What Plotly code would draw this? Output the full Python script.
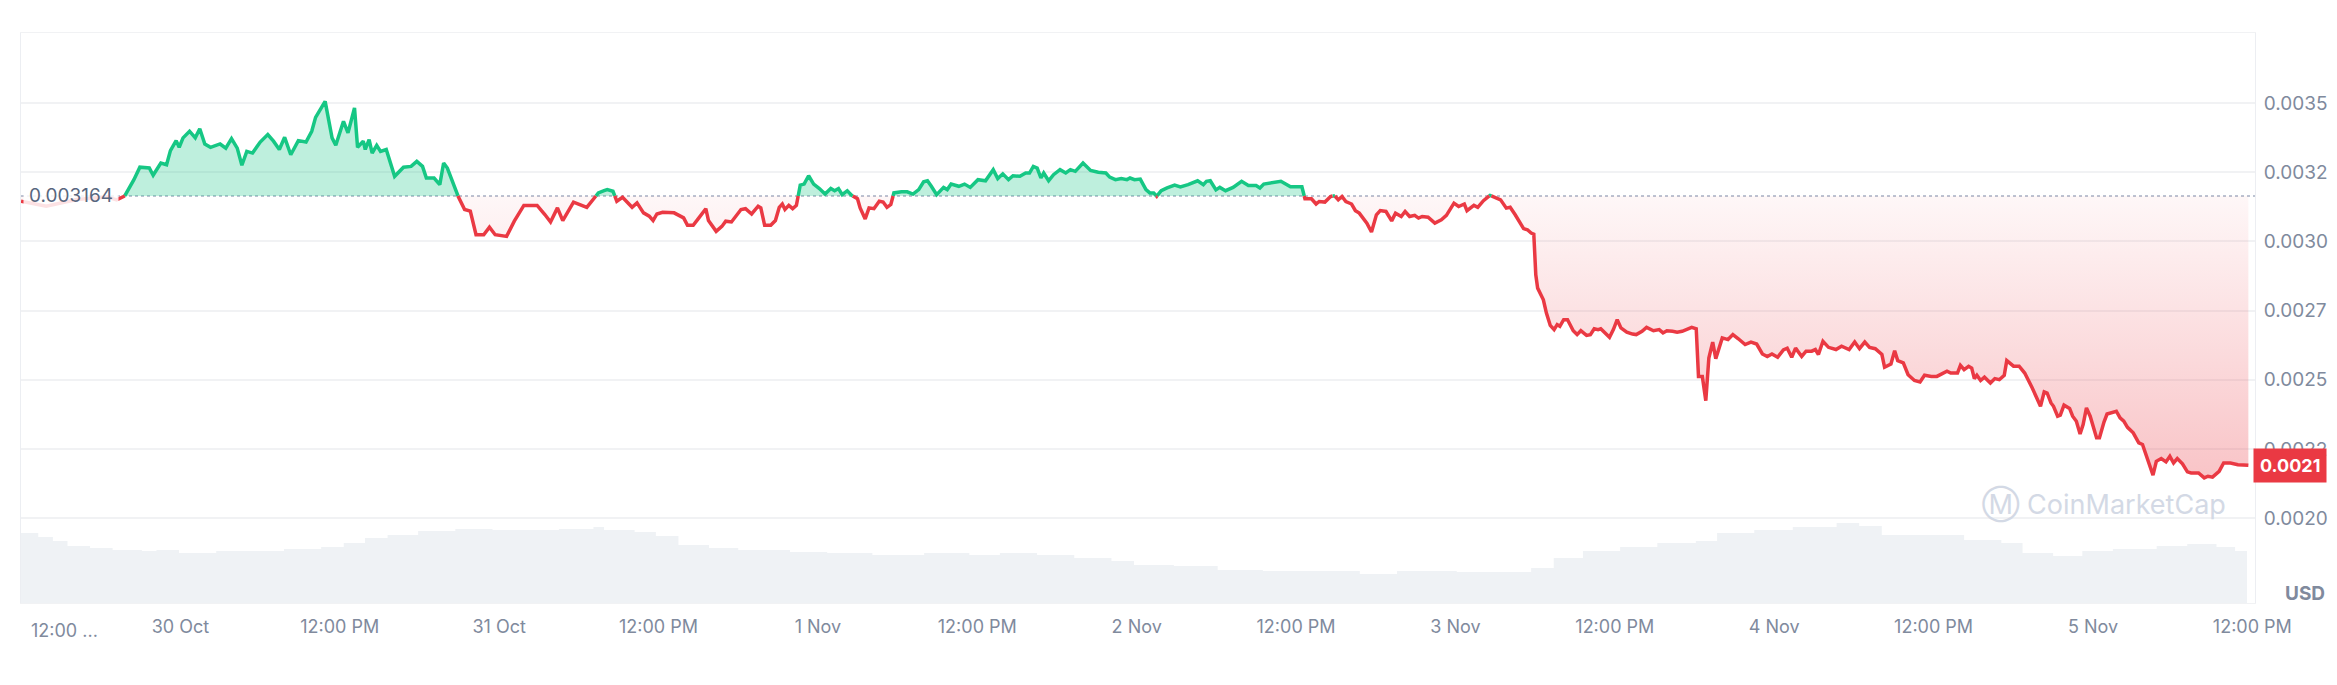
"""CoinMarketCap-style 7D price chart with volume underlay."""
import pandas as pd
import plotly.graph_objects as go

START = pd.Timestamp("2024-10-29 12:00")
BASE = 0.003164
LAST_LABEL = "0.0021"

# hours since 29 Oct 12:00, price in USD
HOURS = [
    0.0, 1.9, 4.2, 6.5, 7.2, 7.8, 8.5, 8.95, 9.66, 9.95, 10.53, 10.96, 11.25, 11.68, 11.91,
    12.2, 12.69, 13.12, 13.46, 13.84, 14.27, 14.99, 15.42, 15.85, 16.28, 16.63, 17.0, 17.43,
    18.01, 18.58, 19.01, 19.45, 19.85, 20.31, 20.88, 21.46, 21.89, 22.18, 22.9, 23.42, 23.7,
    24.28, 24.62, 25.11, 25.34, 25.77, 25.92, 26.21, 26.44, 26.78, 27.07, 27.5, 27.79, 28.13,
    28.8, 29.37, 29.8, 30.23, 30.52, 31.1, 31.53, 31.82, 32.1, 32.54, 32.91, 33.4, 33.83,
    34.26, 34.84, 35.27, 35.7, 36.56, 37.14, 37.86, 38.86, 39.44, 39.87, 40.39, 40.79, 41.6,
    42.6, 43.47, 43.9,
    44.14, 44.57, 44.86, 45.29, 45.72, 46.01, 46.38, 46.87, 47.3, 47.59, 47.88, 48.31, 49.17,
    49.61, 49.89, 50.18, 50.61, 51.04, 51.56, 51.76, 52.34, 52.77, 53.06, 53.49, 54.21, 54.55,
    55.01, 55.5, 55.7, 55.99, 56.45, 56.8, 57.09, 57.32, 57.52, 57.81, 58.1, 58.38, 58.67,
    58.96, 59.3, 59.68, 60.11, 60.54, 60.97, 61.26, 61.55, 61.83, 62.21, 62.55, 62.98, 63.18,
    63.56, 63.85, 64.22, 64.62, 64.91, 65.2, 65.49, 65.72, 66.29, 66.72, 67.16, 67.59, 67.96,
    68.25, 68.54, 68.94, 69.46, 69.74, 70.03, 70.61, 71.04, 71.47, 72.05, 72.62, 73.2, 73.54,
    73.92, 74.35, 74.69, 75.21, 75.64, 75.93, 76.22, 76.51, 76.79, 77.0, 77.37, 77.74, 78.23,
    78.66, 79.01, 79.38, 79.96, 80.53, 81.11, 81.68, 81.97, 82.4, 82.84, 83.27, 83.5, 83.84,
    84.27, 84.7, 84.99, 85.28, 85.51, 85.85, 86.29, 86.86, 87.29, 87.87, 88.59, 89.02,
    89.25, 89.54, 89.97, 90.26, 90.69, 91.26, 91.9, 92.41, 92.99, 93.28, 93.57, 94.28, 94.86,
    95.58, 96.44, 96.67, 97.16, 97.51, 97.74, 98.17, 98.6, 98.89, 99.18, 99.46, 99.75, 100.18,
    100.47, 100.76, 101.05, 101.33, 101.68, 102.05, 102.34, 102.77, 103.2, 103.49, 103.92,
    104.21, 104.55, 104.93, 105.22, 105.5, 105.94, 106.45, 106.94, 107.32, 107.89, 108.24,
    108.67, 108.87, 109.39, 109.68, 110.11, 110.6, 110.97, 111.4, 111.83, 112.12, 112.5,
    113.13, 113.42, 113.7, 113.9, 114.05, 114.19, 114.42, 114.62, 114.85, 115.14, 115.43,
    115.66, 115.86, 116.15, 116.44, 116.87, 117.16, 117.44, 117.87, 118.16, 118.45, 118.74,
    118.94, 119.17, 119.6, 119.89, 120.18, 120.46, 120.9, 121.33, 121.61, 122.05, 122.39,
    122.91, 123.34, 123.63, 123.92, 124.35, 124.69, 125.07, 125.44, 125.79, 126.13, 126.3,
    126.59, 126.85, 127.08, 127.37, 127.6, 128.09, 128.52, 128.89, 129.3, 129.81, 130.25,
    130.68, 131.11, 131.48, 131.83, 132.26, 132.69, 132.98, 133.32, 133.61, 134.07,
    134.4, 134.82, 135.1, 135.33, 135.67, 136.09, 136.65, 137.07, 137.64, 138.06, 138.42,
    138.82, 139.18, 139.61, 140.11, 140.31, 140.79, 141.07, 141.3, 141.72, 142.08, 142.56,
    142.98, 143.32, 143.83, 144.25, 144.62, 145.01, 145.29, 145.8, 146.02, 146.3, 146.64,
    146.87, 147.07, 147.26, 147.54, 147.83, 148.28, 148.61, 148.95, 149.32, 149.51, 150.02,
    150.44, 150.86, 151.43, 152.05, 152.33, 152.55, 152.84, 153.03, 153.34, 153.54, 153.82,
    154.24, 154.47, 154.75, 155.03, 155.26, 155.51, 155.79, 156.27, 156.49, 156.83, 157.06,
    157.76, 158.04, 158.32, 158.6, 159.03, 159.45, 159.73, 160.1, 160.29, 160.52, 160.77,
    161.14, 161.5, 161.79, 162.07, 162.35, 162.74, 163.11, 163.39, 163.95, 164.38, 164.66,
    165.0, 165.5, 165.84, 166.35, 166.91, 167.7,
]
PRICES = [
    0.003145, 0.003127, 0.003151, 0.003160, 0.003150, 0.003163, 0.003223, 0.003268, 0.003265,
    0.003239, 0.003283, 0.003277, 0.003328, 0.003364, 0.003340, 0.003374, 0.003398, 0.003374,
    0.003407, 0.003352, 0.003340, 0.003352, 0.003337, 0.003371, 0.003337, 0.003275, 0.003325,
    0.003319, 0.003359, 0.003386, 0.003362, 0.003332, 0.003376, 0.003313, 0.003364, 0.003359,
    0.003398, 0.003448, 0.003506, 0.003374, 0.003347, 0.003434, 0.003392, 0.003482, 0.003340,
    0.003362, 0.003332, 0.003368, 0.003319, 0.003347, 0.003325, 0.003332, 0.003283, 0.003235,
    0.003268, 0.003271, 0.003289, 0.003271, 0.003229, 0.003229, 0.003205, 0.003283, 0.003265,
    0.003211, 0.003163, 0.003115, 0.003109, 0.003024, 0.003024, 0.003051, 0.003024, 0.003018,
    0.003073, 0.003130, 0.003130, 0.003097, 0.003070, 0.003121, 0.003075, 0.003142, 0.003123,
    0.003175, 0.003183,
    0.003187, 0.003181, 0.003145, 0.003159, 0.003139, 0.003123, 0.003139, 0.003103, 0.003091,
    0.003075, 0.003099, 0.003105, 0.003103, 0.003091, 0.003085, 0.003058, 0.003058, 0.003085,
    0.003118, 0.003075, 0.003036, 0.003054, 0.003073, 0.003070, 0.003115, 0.003118, 0.003099,
    0.003127, 0.003121, 0.003058, 0.003058, 0.003075, 0.003123, 0.003135, 0.003115, 0.003130,
    0.003118, 0.003130, 0.003203, 0.003207, 0.003237, 0.003207, 0.003191, 0.003171, 0.003191,
    0.003183, 0.003191, 0.003169, 0.003183, 0.003166, 0.003154, 0.003121, 0.003081, 0.003121,
    0.003118, 0.003145, 0.003142, 0.003123, 0.003133, 0.003175, 0.003179, 0.003179, 0.003171,
    0.003187, 0.003215, 0.003219, 0.003199, 0.003169, 0.003195, 0.003187, 0.003207, 0.003199,
    0.003207, 0.003195, 0.003223, 0.003219, 0.003259, 0.003227, 0.003244, 0.003223, 0.003237,
    0.003235, 0.003247, 0.003247, 0.003271, 0.003265, 0.003229, 0.003247, 0.003219, 0.003241,
    0.003259, 0.003247, 0.003259, 0.003253, 0.003283, 0.003256, 0.003250, 0.003247, 0.003232,
    0.003223, 0.003227, 0.003223, 0.003229, 0.003223, 0.003225, 0.003187, 0.003175, 0.003175,
    0.003163, 0.003183, 0.003193, 0.003203, 0.003197, 0.003205, 0.003219, 0.003205,
    0.003217, 0.003219, 0.003186, 0.003195, 0.003183, 0.003195, 0.003217, 0.003202, 0.003202,
    0.003193, 0.003207, 0.003211, 0.003217, 0.003197, 0.003197, 0.003154, 0.003154, 0.003135,
    0.003144, 0.003142, 0.003162, 0.003166, 0.003150, 0.003162, 0.003144, 0.003135, 0.003111,
    0.003102, 0.003082, 0.003066, 0.003034, 0.003096, 0.003111, 0.003108, 0.003074, 0.003102,
    0.003090, 0.003108, 0.003090, 0.003094, 0.003084, 0.003090, 0.003087, 0.003066, 0.003078,
    0.003094, 0.003138, 0.003126, 0.003135, 0.003111, 0.003130, 0.003123, 0.003147, 0.003166,
    0.003159, 0.003150, 0.003120, 0.003123, 0.003096, 0.003046, 0.003042, 0.003030, 0.003026,
    0.002879, 0.002831, 0.002805, 0.002789, 0.002741, 0.002696, 0.002681, 0.002699, 0.002693,
    0.002717, 0.002717, 0.002677, 0.002663, 0.002677, 0.002660, 0.002663, 0.002684, 0.002681,
    0.002684, 0.002672, 0.002653, 0.002681, 0.002717, 0.002687, 0.002672, 0.002665, 0.002663,
    0.002675, 0.002689, 0.002677, 0.002681, 0.002669, 0.002677, 0.002675, 0.002672, 0.002675,
    0.002684, 0.002689, 0.002684, 0.002512, 0.002512, 0.002424, 0.002578, 0.002636, 0.002576,
    0.002651, 0.002645, 0.002663, 0.002648, 0.002627, 0.002636, 0.002629, 0.002593, 0.002584,
    0.002593, 0.002581, 0.002608, 0.002614, 0.002581, 0.002614, 0.002584,
    0.002603, 0.002603, 0.002609, 0.002591, 0.002639, 0.002617, 0.002609, 0.002621, 0.002609,
    0.002636, 0.002612, 0.002636, 0.002617, 0.002612, 0.002591, 0.002545, 0.002557, 0.002605,
    0.002569, 0.002561, 0.002518, 0.002497, 0.002492, 0.002516, 0.002512, 0.002512, 0.002521,
    0.002531, 0.002524, 0.002524, 0.002552, 0.002536, 0.002548, 0.002542, 0.002504, 0.002516,
    0.002497, 0.002509, 0.002488, 0.002504, 0.002500, 0.002516, 0.002569, 0.002549, 0.002549,
    0.002524, 0.002470, 0.002404, 0.002456, 0.002452, 0.002416, 0.002404, 0.002368, 0.002372,
    0.002408, 0.002396, 0.002368, 0.002350, 0.002304, 0.002338, 0.002398, 0.002368, 0.002290,
    0.002290, 0.002347, 0.002376, 0.002386, 0.002362, 0.002350, 0.002328, 0.002308, 0.002272,
    0.002266, 0.002211, 0.002193, 0.002155, 0.002205, 0.002215, 0.002203, 0.002223, 0.002199,
    0.002215, 0.002196, 0.002167, 0.002163, 0.002163, 0.002145, 0.002151, 0.002148, 0.002169,
    0.002199, 0.002199, 0.002193, 0.002191,
]

# relative 24h volume, sampled roughly every 2-3 hours
VOL_HOURS = [
    0.0, 1.3, 2.4, 3.5, 5.2, 6.9, 9.1, 10.2, 11.9, 14.7, 18.1, 19.8, 22.6, 24.3, 25.9, 27.6,
    29.9, 32.7, 35.5, 38.3, 40.5, 43.1, 43.9, 46.2, 47.8, 49.5, 51.8, 54.0, 56.3, 57.9, 60.7,
    64.1, 68.0, 71.4, 73.7, 76.5, 79.3, 82.1, 83.8, 86.8, 90.1, 93.5, 96.9, 100.8, 103.6,
    108.1, 112.0, 113.7, 115.4, 117.6, 120.4, 123.2, 126.1, 127.7, 130.5, 133.4, 136.7,
    138.4, 140.1, 143.5, 146.3, 149.1, 150.7, 153.0, 155.2, 157.5, 160.8, 163.1, 165.3,
    166.7, 167.6,
]
VOLUME = [
    70, 66, 62, 57, 55, 53, 52, 53, 50, 52, 52, 54, 56, 60, 65, 68, 72, 74, 73, 73, 74, 76,
    73, 71, 67, 58, 55, 53, 53, 51, 50, 48, 50, 48, 50, 48, 45, 42, 38, 37, 33, 32, 32, 29,
    32, 31, 31, 35, 45, 52, 56, 60, 62, 70, 73, 76, 80, 77, 68, 68, 63, 60, 50, 47, 52, 54,
    57, 59, 56, 52, 52,
]

TICK_HOURS = [12 * i for i in range(1, 15)]
TICK_TEXT = ["30 Oct", "12:00 PM", "31 Oct", "12:00 PM", "1 Nov", "12:00 PM", "2 Nov",
             "12:00 PM", "3 Nov", "12:00 PM", "4 Nov", "12:00 PM", "5 Nov", "12:00 PM"]
Y_TICKS = [0.0020, 0.00225, 0.0025, 0.00275, 0.0030, 0.00325, 0.0035]
Y_TEXT = ["0.0020", "0.0022", "0.0025", "0.0027", "0.0030", "0.0032", "0.0035"]

GREEN = "#16c784"
RED = "#ea3943"
AXIS = "#808a9d"
GRID = "#f1f2f4"
FONT = "Inter, Roboto, sans-serif"


def when(h):
    return START + pd.to_timedelta(h, unit="h")


# insert baseline crossings so the green/red split is clean
hx, py = [HOURS[0]], [PRICES[0]]
for h0, p0, h1, p1 in zip(HOURS, PRICES, HOURS[1:], PRICES[1:]):
    if (p0 - BASE) * (p1 - BASE) < 0:
        hx.append(h0 + (BASE - p0) / (p1 - p0) * (h1 - h0))
        py.append(BASE)
    hx.append(h1)
    py.append(p1)
t = [when(h) for h in hx]
up = [p if p >= BASE else None for p in py]
down = [p if p <= BASE else None for p in py]

fig = go.Figure()
fig.add_trace(go.Scatter(
    x=[when(h) for h in VOL_HOURS], y=VOLUME, yaxis="y2", mode="lines",
    line=dict(width=0, shape="hv"), fill="tozeroy", fillcolor="#eff2f5",
    hoverinfo="skip", showlegend=False))
fig.add_trace(go.Scatter(x=t, y=[BASE] * len(t), mode="lines", line=dict(width=0),
                         hoverinfo="skip", showlegend=False))
fig.add_trace(go.Scatter(x=t, y=[max(p, BASE) for p in py], mode="lines", line=dict(width=0),
                         fill="tonexty", fillcolor="rgba(22,199,132,0.28)",
                         hoverinfo="skip", showlegend=False))
fig.add_trace(go.Scatter(x=t, y=[BASE] * len(t), mode="lines", line=dict(width=0),
                         hoverinfo="skip", showlegend=False))
fig.add_trace(go.Scatter(
    x=t, y=[min(p, BASE) for p in py], mode="lines", line=dict(width=0), fill="tonexty",
    fillgradient=dict(type="vertical", start=0.00214, stop=BASE,
                      colorscale=[[0, "rgba(234,57,67,0.30)"], [1, "rgba(234,57,67,0.04)"]]),
    hoverinfo="skip", showlegend=False))
fig.add_trace(go.Scatter(x=t, y=up, mode="lines", line=dict(color=GREEN, width=3.5),
                         showlegend=False))
fig.add_trace(go.Scatter(x=t, y=down, mode="lines", line=dict(color=RED, width=3.5),
                         showlegend=False))

# dotted reference at the opening price
fig.add_shape(type="line", xref="paper", x0=0, x1=1, y0=BASE, y1=BASE,
              line=dict(color="#a6b0c3", width=1.5, dash="dot"), layer="below")
fig.add_annotation(xref="paper", x=0, y=BASE, xanchor="left", xshift=2, text="0.003164",
                   showarrow=False, bgcolor="rgba(255,255,255,0.85)", borderpad=5,
                   font=dict(size=19, color="#58667e"))
fig.add_annotation(xref="paper", x=1, y=PRICES[-1], xanchor="left", xshift=-2,
                   text=f"<b>{LAST_LABEL}</b>", showarrow=False, bgcolor=RED, borderpad=6,
                   font=dict(size=18, color="white"))
fig.add_annotation(xref="paper", yref="paper", x=0, y=-0.049, xanchor="left", yanchor="middle",
                   xshift=8, text="12:00 ...", showarrow=False,
                   font=dict(size=18, color=AXIS))
fig.add_annotation(xref="paper", yref="paper", x=1, y=0, xanchor="left", yanchor="bottom",
                   xshift=28, yshift=-4, text="<b>USD</b>", showarrow=False,
                   font=dict(size=19, color=AXIS))
fig.add_annotation(xref="paper", yref="paper", x=0.988, y=0.137, xanchor="right",
                   text="Ⓜ CoinMarketCap", showarrow=False,
                   font=dict(size=27, color="#d3d9e5"))

fig.update_layout(
    width=2337, height=685, template=None,
    paper_bgcolor="white", plot_bgcolor="white",
    margin=dict(l=13, r=90, t=25, b=90),
    font=dict(family=FONT, color=AXIS, size=18),
    xaxis=dict(type="date", range=[when(0), when(168.2)], tickvals=[when(h) for h in TICK_HOURS],
               ticktext=TICK_TEXT, showgrid=False, zeroline=False, ticks="",
               ticklabelstandoff=7, showline=True, linecolor=GRID, mirror=True,
               tickfont=dict(size=18, color=AXIS)),
    yaxis=dict(side="right", range=[0.001693, 0.003753], tickvals=Y_TICKS, ticktext=Y_TEXT,
               gridcolor=GRID, gridwidth=1.5, zeroline=False, ticks="", ticklabelstandoff=4,
               showline=True, linecolor="#eceef2", mirror=True,
               tickfont=dict(size=19, color=AXIS)),
    yaxis2=dict(overlaying="y", range=[0, 570], visible=False),
    hovermode=False,
)

fig.write_html("out.html")
